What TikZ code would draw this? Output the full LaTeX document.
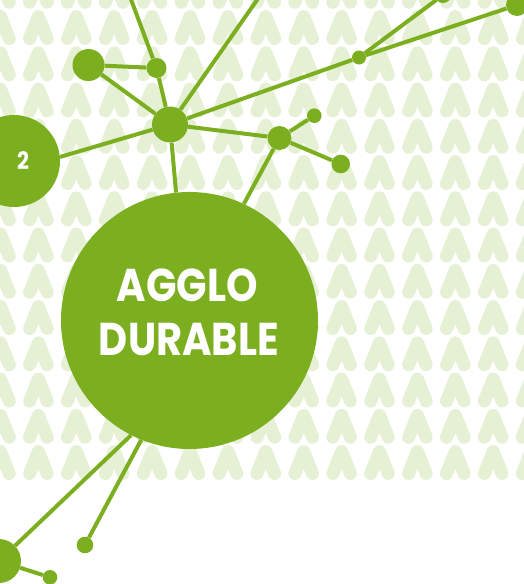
\documentclass[tikz,border=0pt]{standalone}
\usepackage{fontspec}
\newfontfamily\agglofont{Poppins}[FakeStretch=0.87]
\usepackage{xcolor}

\definecolor{agglogreen}{RGB}{124,175,32}
\definecolor{chevgreen}{RGB}{230,240,213}

\tikzset{
  netdot/.style={circle, fill=agglogreen, inner sep=0pt, minimum size=#1},
  link/.style={draw=agglogreen, line width=4pt},
  chevron/.style={draw=chevgreen, line width=13pt, line cap=round, line join=round},
  bigtext/.style={anchor=base, text=white, inner sep=0pt, font=\agglofont\bfseries\fontsize{46pt}{46pt}\selectfont},
}

\begin{document}
\begin{tikzpicture}[x=1pt,y=-1pt]
\useasboundingbox (0,0) rectangle (524,584);
\clip (0,0) rectangle (524,584);
% background pattern
\foreach \i in {0,...,14}
  \foreach \j in {-1,...,12}
    \draw[chevron] ({0.5+37.9*\i-8.8},{38.5+36.25*\j}) -- ({0.5+37.9*\i},{16.5+36.25*\j}) -- ({0.5+37.9*\i+8.8},{38.5+36.25*\j});

% network
\node[netdot=257pt] (agglo) at (189.5,320.5) {};
\node[netdot=92pt] (two) at (14,161) {};
\node[netdot=36pt] (hub) at (170,124.5) {};
\node[netdot=32pt] (big1) at (88.5,65) {};
\node[netdot=20pt] (sm1) at (156.5,68) {};
\node[netdot=14pt] (mid1) at (359,57.5) {};
\node[netdot=22pt] (tr) at (517,5) {};
\node[netdot=16pt] (tt) at (443,-5) {};
\node[netdot=24pt] (n3) at (279.5,138) {};
\node[netdot=14.6pt] (sm2) at (314.3,115.7) {};
\node[netdot=18.6pt] (n4) at (340.7,164) {};
\node[netdot=44pt] (bl) at (-1,561) {};
\node[netdot=16.6pt] (b2) at (85,545) {};
\node[netdot=14.6pt] (sm3) at (50,577.3) {};
\coordinate (top1) at (127.5,-10);
\coordinate (top2) at (264,-10);

\draw[link] (hub) -- (sm1);
\draw[link] (sm1) -- (top1);
\draw[link] (big1) -- (sm1);
\draw[link] (big1) -- (hub);
\draw[link] (hub) -- (top2);
\draw[link] (hub) -- (mid1);
\draw[link] (mid1) -- (tr);
\draw[link] (mid1) -- (tt);
\draw[link] (hub) -- (n3);
\draw[link] (n3) -- (sm2);
\draw[link] (n3) -- (n4);
\draw[link] (n3) -- (agglo.65);
\draw[link] (hub) -- (agglo.96);
\draw[link] (hub) -- (two.5);
\draw[link] (bl) -- (agglo.243);
\draw[link] (b2) -- (agglo.248);
\draw[link] (bl) -- (sm3);

% labels
\node[bigtext] (aggloTxt) at (187.5,301.7) {AGGLO};
\node[bigtext] (durableTxt) at (189,355.7) {DURABLE};
\node[anchor=base, text=white, inner sep=0pt, font=\agglofont\bfseries\fontsize{24pt}{24pt}\selectfont] (twoTxt) at (23,169.5) {2};
\end{tikzpicture}
\end{document}
